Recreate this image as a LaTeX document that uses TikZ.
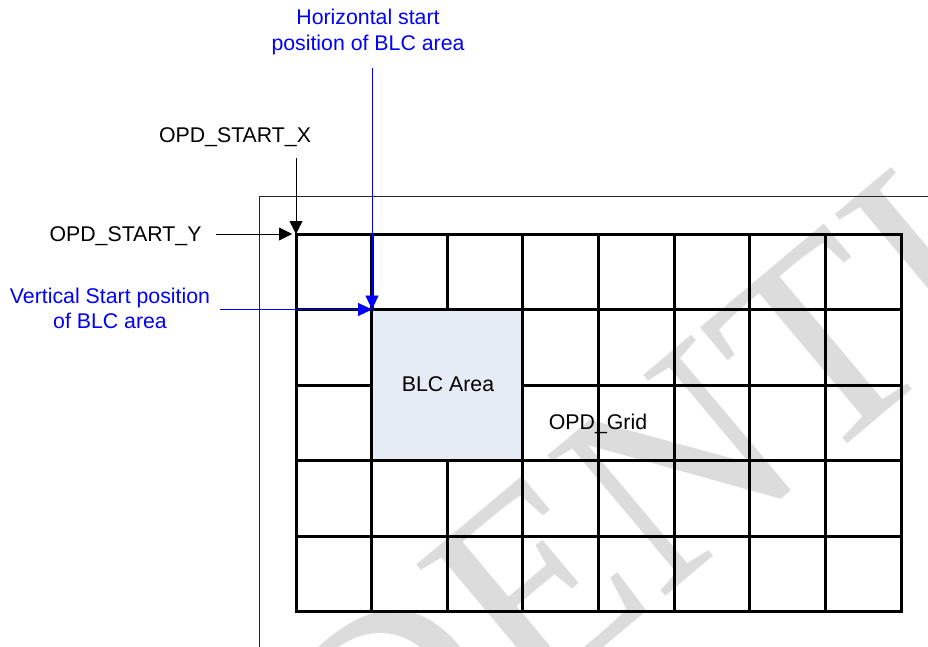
\documentclass[tikz,border=0pt]{standalone}
\usepackage{fontspec}
\setmainfont{Liberation Sans}
\newfontfamily\wmfont{Liberation Serif}
\usetikzlibrary{arrows.meta}
\definecolor{blcfill}{RGB}{230,236,246}
\definecolor{wmgray}{RGB}{220,220,220}
\definecolor{pblue}{RGB}{0,0,255}
\begin{document}
\begin{tikzpicture}[x=1pt,y=-1pt,
  lbl/.style={font=\fontsize{21.3}{25.5}\selectfont, inner sep=0pt, align=center},
  bluelbl/.style={lbl, text=pblue},
  gridline/.style={line width=3pt, line cap=rect},
  blackarrow/.style={draw=black, line width=0.9pt, -{Triangle[width=13pt,length=13pt]}},
  bluearrow/.style={draw=pblue, line width=0.9pt, -{Triangle[width=13pt,length=14pt]}},
  frameline/.style={line width=1pt, draw=black!85},
  wmark/.style={anchor=base west, rotate=40, inner sep=0pt, text=wmgray, font=\wmfont\fontsize{280}{280}\selectfont}]
\useasboundingbox (0,0) rectangle (928,647);
\fill[white] (0,0) rectangle (928,647);
% watermark
\begin{scope}
\clip (0,0) rectangle (928,647);
\node[wmark] (wm) at (-270,1381) {CONFIDENTIAL};
\end{scope}
% outer frame (cut by the page)
\draw[frameline] (259,650) -- (259,196) -- (930,196);
% BLC area
\fill[blcfill] (371.6,309.5) rectangle (522.9,460.5);
\node[lbl, anchor=base] (blcl) at (448,391.6) {BLC Area};
% grid
\foreach \i in {0,1,3,4,5,6,7,8}{
  \draw[gridline] ({296+\i*75.625},234) -- ({296+\i*75.625},611.5);
}
\draw[gridline] (447.25,234) -- (447.25,309.5);
\draw[gridline] (447.25,460.5) -- (447.25,611.5);
\foreach \j in {0,1,3,4,5}{
  \draw[gridline] (296,{234+\j*75.5}) -- (901,{234+\j*75.5});
}
\draw[gridline] (296,385) -- (371.6,385);
\draw[gridline] (522.9,385) -- (901,385);
\node[lbl, anchor=base] (grid) at (598,429) {OPD\_Grid};
% labels
\node[lbl, anchor=base] (sx) at (235,143) {OPD\_START\_X};
\node[lbl, anchor=base] (sy) at (125.5,241) {OPD\_START\_Y};
\node[bluelbl] (hl) at (368,32) {Horizontal start\\position of BLC area};
\node[bluelbl] (vl) at (110,308.2) {Vertical Start position\\of BLC area};
% connector ends
\coordinate (corner) at (296,234);
\coordinate (xstart) at (296,158);
\coordinate (ystart) at (216,234);
\coordinate (hstart) at (372,68);
\coordinate (vstart) at (220,309.5);
\coordinate (blc) at (372,309.5);
% arrows
\draw[blackarrow] (xstart) -- (corner);
\draw[blackarrow, shorten >=4pt] (ystart) -- (corner);
\draw[pblue!45!black, line width=3pt] (372,234) -- (372,309.5);
\draw[bluearrow] (hstart) -- (blc);
\draw[bluearrow] (vstart) -- (blc);
\end{tikzpicture}
\end{document}
